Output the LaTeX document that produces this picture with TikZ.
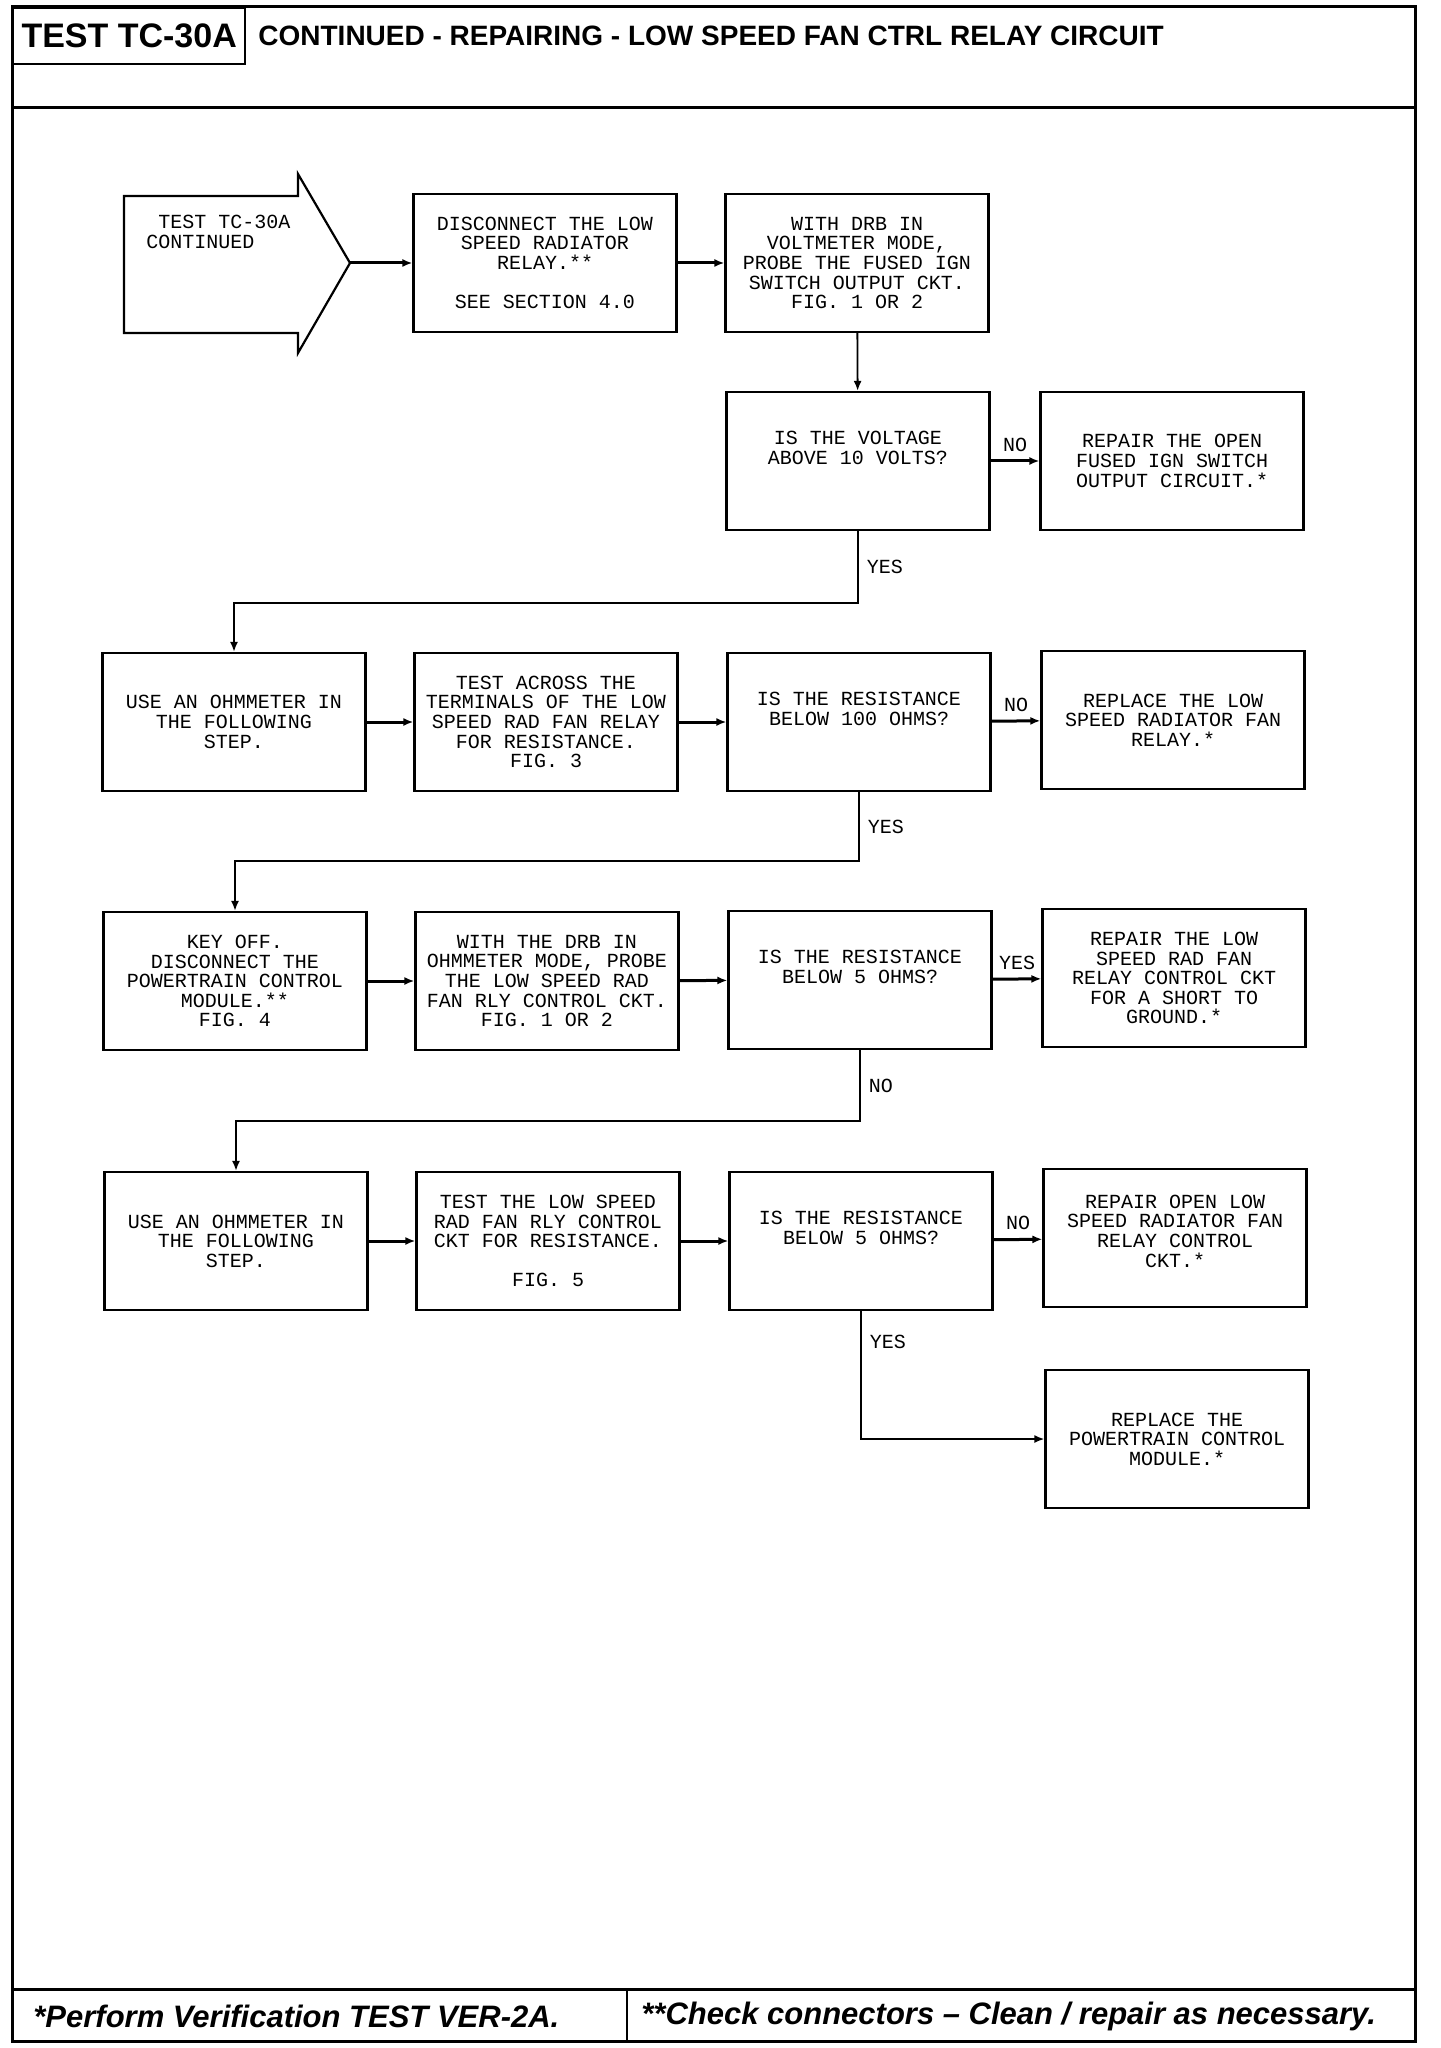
\documentclass[tikz,border=0pt]{standalone}
\usepackage{fontspec}
\setsansfont{Liberation Sans}
\setmonofont{Liberation Mono}
\usepackage{tikz}
\usetikzlibrary{arrows.meta, positioning, calc}

\begin{document}
\begin{tikzpicture}[x=0.5pt, y=-0.5pt,
  box/.style={draw, line width=1.1pt, minimum width=131.5pt, minimum height=69pt, inner sep=2pt,
    align=center, font=\ttfamily\fontsize{10}{9.8}\selectfont},
  query/.style={box, text depth=13pt},
  link/.style={line width=1.5pt, -{Latex[length=5pt,width=4pt]}},
  drop/.style={line width=0.9pt, -{Latex[length=5pt,width=4pt]}},
  tag/.style={font=\ttfamily\fontsize{10}{10}\selectfont, inner sep=1pt}]
  \useasboundingbox (0,0) rectangle (1440,2048);

  \draw[line width=1.5pt] (12,7) rectangle (1415,2041);
  \draw[line width=1.5pt] (12,108) -- (1415,108);
  \draw[line width=1.5pt] (12,1989) -- (1415,1989);
  \draw[line width=1.2pt] (627,1989) -- (627,2041);

  \node[draw, line width=1.2pt, anchor=north west, minimum width=116pt, minimum height=28pt, inner sep=0pt,
    font=\sffamily\bfseries\fontsize{17}{17}\selectfont] (testid) at (12,7) {TEST TC-30A};
  \node[anchor=west, inner sep=0pt, font=\sffamily\bfseries\fontsize{14}{14}\selectfont]
    (title) at (258,36) {CONTINUED - REPAIRING - LOW SPEED FAN CTRL RELAY CIRCUIT};

  \draw[line width=1.1pt] (124,196) -- (298,196) -- (298,174) -- (350,263) -- (298,353) -- (298,333) -- (124,333) -- cycle;
  \coordinate (tip) at (350,263);
  \node[anchor=west, align=left, inner sep=0pt, font=\ttfamily\fontsize{10}{9.8}\selectfont]
    (start) at (146,232) {\ TEST TC-30A\\CONTINUED};

  \node[box] (unplug) at (545,263) {DISCONNECT THE LOW\\SPEED RADIATOR\\RELAY.**\\[9.8pt]SEE SECTION 4.0};
  \node[box] (probe) at (857,263) {WITH DRB IN\\VOLTMETER MODE,\\PROBE THE FUSED IGN\\SWITCH OUTPUT CKT.\\FIG. 1 OR 2};
  \node[query] (voltq) at (858,461) {IS THE VOLTAGE\\ABOVE 10 VOLTS?};
  \node[box] (fixign) at (1172,461) {REPAIR THE OPEN\\FUSED IGN SWITCH\\OUTPUT CIRCUIT.*};

  \node[box] (ohmone) at (234,722) {USE AN OHMMETER IN\\THE FOLLOWING\\STEP.};
  \node[box] (across) at (546,722) {TEST ACROSS THE\\TERMINALS OF THE LOW\\SPEED RAD FAN RELAY\\FOR RESISTANCE.\\FIG. 3};
  \node[query] (resq100) at (859,722) {IS THE RESISTANCE\\BELOW 100 OHMS?};
  \node[box] (swaprelay) at (1173,720) {REPLACE THE LOW\\SPEED RADIATOR FAN\\RELAY.*};

  \node[box] (keyoff) at (235,981) {KEY OFF.\\DISCONNECT THE\\POWERTRAIN CONTROL\\MODULE.**\\FIG. 4};
  \node[box] (probectl) at (547,981) {WITH THE DRB IN\\OHMMETER MODE, PROBE\\THE LOW SPEED RAD\\FAN RLY CONTROL CKT.\\FIG. 1 OR 2};
  \node[query] (resq5a) at (860,980) {IS THE RESISTANCE\\BELOW 5 OHMS?};
  \node[box] (fixshort) at (1174,978) {REPAIR THE LOW\\SPEED RAD FAN\\RELAY CONTROL CKT\\FOR A SHORT TO\\GROUND.*};

  \node[box] (ohmtwo) at (236,1241) {USE AN OHMMETER IN\\THE FOLLOWING\\STEP.};
  \node[box] (testctl) at (548,1241) {TEST THE LOW SPEED\\RAD FAN RLY CONTROL\\CKT FOR RESISTANCE.\\[9.8pt]FIG. 5};
  \node[query] (resq5b) at (861,1241) {IS THE RESISTANCE\\BELOW 5 OHMS?};
  \node[box, text depth=7pt] (fixopen) at (1175,1238) {REPAIR OPEN LOW\\SPEED RADIATOR FAN\\RELAY CONTROL\\CKT.*};
  \node[box] (swappcm) at (1177,1439) {REPLACE THE\\POWERTRAIN CONTROL\\MODULE.*};

  \draw[link] (tip) -- (unplug);
  \draw[link] (unplug) -- (probe);
  \draw[drop] (probe) -- (voltq);
  \draw[link] (voltq) -- node[tag, above=3pt] {NO} (fixign);
  \draw[drop] (voltq.south) -- node[tag, right=3pt] {YES} ++(0,72) -| (ohmone.north);

  \draw[link] (ohmone) -- (across);
  \draw[link] (across) -- (resq100);
  \draw[link] (resq100) -- node[tag, above=3pt] {NO} (swaprelay);
  \draw[drop] (resq100.south) -- node[tag, right=3pt] {YES} ++(0,69) -| (keyoff.north);

  \draw[link] (keyoff) -- (probectl);
  \draw[link] (probectl) -- (resq5a);
  \draw[link] (resq5a) -- node[tag, above=3pt] {YES} (fixshort);
  \draw[drop] (resq5a.south) -- node[tag, right=3pt] {NO} ++(0,71) -| (ohmtwo.north);

  \draw[link] (ohmtwo) -- (testctl);
  \draw[link] (testctl) -- (resq5b);
  \draw[link] (resq5b) -- node[tag, above=3pt] {NO} (fixopen);
  \draw[drop] (resq5b.south) |- node[tag, right=3pt, pos=0.12] {YES} (swappcm.west);

  \node[anchor=west, inner sep=0pt, font=\sffamily\bfseries\itshape\fontsize{15.5}{15.5}\selectfont]
    (verify) at (33,2016) {*Perform Verification TEST VER-2A.};
  \node[anchor=west, inner sep=0pt, font=\sffamily\bfseries\itshape\fontsize{15.5}{15.5}\selectfont]
    (clean) at (641,2016) {**Check connectors – Clean / repair as necessary.};
\end{tikzpicture}
\end{document}
